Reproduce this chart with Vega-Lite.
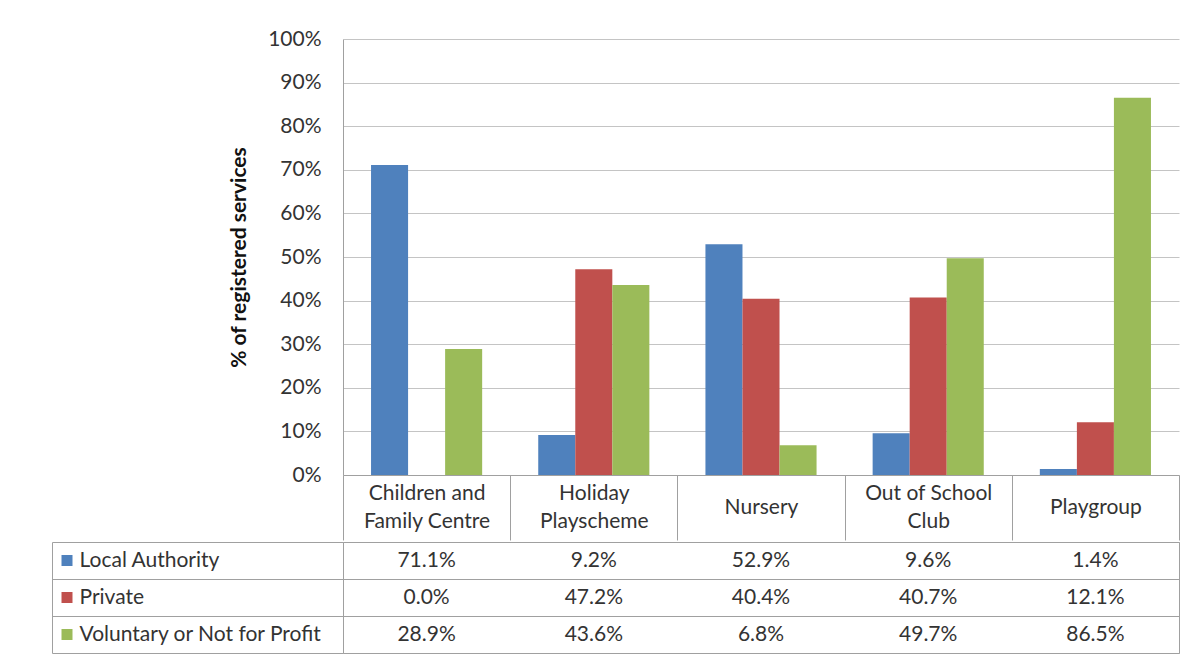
{
  "$schema": "https://vega.github.io/schema/vega-lite/v6.json",
  "padding": {"left": 51, "top": 28, "right": 0, "bottom": 0},
  "background": "white",
  "config": {"font": "Lato", "view": {"stroke": null}, "axis": {"labelFont": "Lato", "titleFont": "Lato"}},
  "data": {"values": [
    {"category": "Children and Family Centre", "series": "Local Authority", "value": 0.711},
    {"category": "Children and Family Centre", "series": "Private", "value": 0.0},
    {"category": "Children and Family Centre", "series": "Voluntary or Not for Profit", "value": 0.289},
    {"category": "Holiday Playscheme", "series": "Local Authority", "value": 0.092},
    {"category": "Holiday Playscheme", "series": "Private", "value": 0.472},
    {"category": "Holiday Playscheme", "series": "Voluntary or Not for Profit", "value": 0.436},
    {"category": "Nursery", "series": "Local Authority", "value": 0.529},
    {"category": "Nursery", "series": "Private", "value": 0.404},
    {"category": "Nursery", "series": "Voluntary or Not for Profit", "value": 0.068},
    {"category": "Out of School Club", "series": "Local Authority", "value": 0.096},
    {"category": "Out of School Club", "series": "Private", "value": 0.407},
    {"category": "Out of School Club", "series": "Voluntary or Not for Profit", "value": 0.497},
    {"category": "Playgroup", "series": "Local Authority", "value": 0.014},
    {"category": "Playgroup", "series": "Private", "value": 0.121},
    {"category": "Playgroup", "series": "Voluntary or Not for Profit", "value": 0.865}
  ]},
  "spacing": 0,
  "vconcat": [
    {
      "width": 836,
      "height": 436,
      "mark": {"type": "bar"},
      "encoding": {
        "x": {
          "field": "category", "type": "nominal",
          "scale": {"paddingInner": 0, "paddingOuter": 0},
          "axis": {
            "title": null, "orient": "bottom", "domain": true, "domainColor": "#a0a0a0",
            "ticks": true, "tickBand": "extent", "tickSize": 65, "tickColor": "#a0a0a0",
            "labelPadding": {"condition": {"test": "datum.value === 'Nursery' || datum.value === 'Playgroup'", "value": -33}, "value": -47},
            "labelBaseline": "middle", "labelAngle": 0,
            "labelFontSize": 21, "labelColor": "#333333", "labelLineHeight": 28,
            "labelOverlap": false, "labelBound": false, "labelLimit": 0,
            "labelExpr": "datum.value == 'Children and Family Centre' ? ['Children and', 'Family Centre'] : datum.value == 'Holiday Playscheme' ? ['Holiday', 'Playscheme'] : datum.value == 'Out of School Club' ? ['Out of School', 'Club'] : datum.value"
          }
        },
        "xOffset": {"field": "series", "type": "nominal", "scale": {"paddingInner": 0, "paddingOuter": 0.757}},
        "y": {
          "field": "value", "type": "quantitative",
          "scale": {"domain": [0, 1], "nice": false},
          "axis": {
            "format": ".0%", "values": [0, 0.1, 0.2, 0.3, 0.4, 0.5, 0.6, 0.7, 0.8, 0.9, 1],
            "grid": true, "gridColor": "#c4c4c4", "domain": true, "domainColor": "#a0a0a0",
            "ticks": false, "tickSize": 0, "labelPadding": 22, "labelFontSize": 21, "labelColor": "#333333",
            "title": "% of registered services", "titleFontSize": 21, "titleFontWeight": "bold",
            "titleColor": "#111111", "titlePadding": 18
          }
        },
        "color": {
          "field": "series", "type": "nominal",
          "scale": {"domain": ["Local Authority", "Private", "Voluntary or Not for Profit"], "range": ["#4F81BD", "#C0504D", "#9BBB59"]},
          "legend": null
        }
      }
    },
    {
      "width": 836,
      "height": 111,
      "view": {"stroke": "#a0a0a0"},
      "layer": [
        {
          "mark": {"type": "text", "fontSize": 21, "color": "#333333", "font": "Lato"},
          "encoding": {
            "x": {
              "field": "category", "type": "nominal",
              "scale": {"paddingInner": 0, "paddingOuter": 0},
              "axis": {"orient": "top", "title": null, "labels": false, "ticks": false, "domain": false, "grid": true, "tickBand": "extent", "gridColor": "#a0a0a0"}
            },
            "y": {
              "field": "series", "type": "nominal",
              "scale": {"paddingInner": 0, "paddingOuter": 0},
              "axis": {
                "orient": "left", "offset": 271, "title": null, "domain": false,
                "ticks": true, "tickSize": 11, "tickWidth": 11,
                "tickColor": {"condition": [{"test": "datum.value === 'Private'", "value": "#C0504D"}, {"test": "datum.value === 'Voluntary or Not for Profit'", "value": "#9BBB59"}], "value": "#4F81BD"},
                "labelAlign": "left", "labelPadding": -18, "labelFontSize": 21, "labelColor": "#333333",
                "labelLimit": 0, "grid": false
              }
            },
            "text": {"field": "value", "type": "quantitative", "format": ".1%"}
          }
        },
        {
          "mark": {"type": "rect", "opacity": 0},
          "encoding": {
            "x": {"field": "category", "type": "nominal", "axis": null},
            "y": {
              "field": "series", "type": "nominal",
              "axis": {"orient": "left", "offset": 0, "title": null, "labels": false, "domain": false, "ticks": true, "tickBand": "extent", "tickSize": 291, "tickColor": "#a0a0a0", "grid": true, "gridColor": "#a0a0a0"}
            }
          }
        },
        {
          "mark": {"type": "rect", "opacity": 0},
          "encoding": {
            "x": {"field": "category", "type": "nominal", "axis": null},
            "y": {
              "field": "series", "type": "nominal",
              "axis": {"orient": "left", "offset": 291, "title": null, "labels": false, "ticks": false, "domain": true, "domainColor": "#a0a0a0", "grid": false}
            }
          }
        }
      ],
      "resolve": {"axis": {"y": "independent"}}
    }
  ]
}
